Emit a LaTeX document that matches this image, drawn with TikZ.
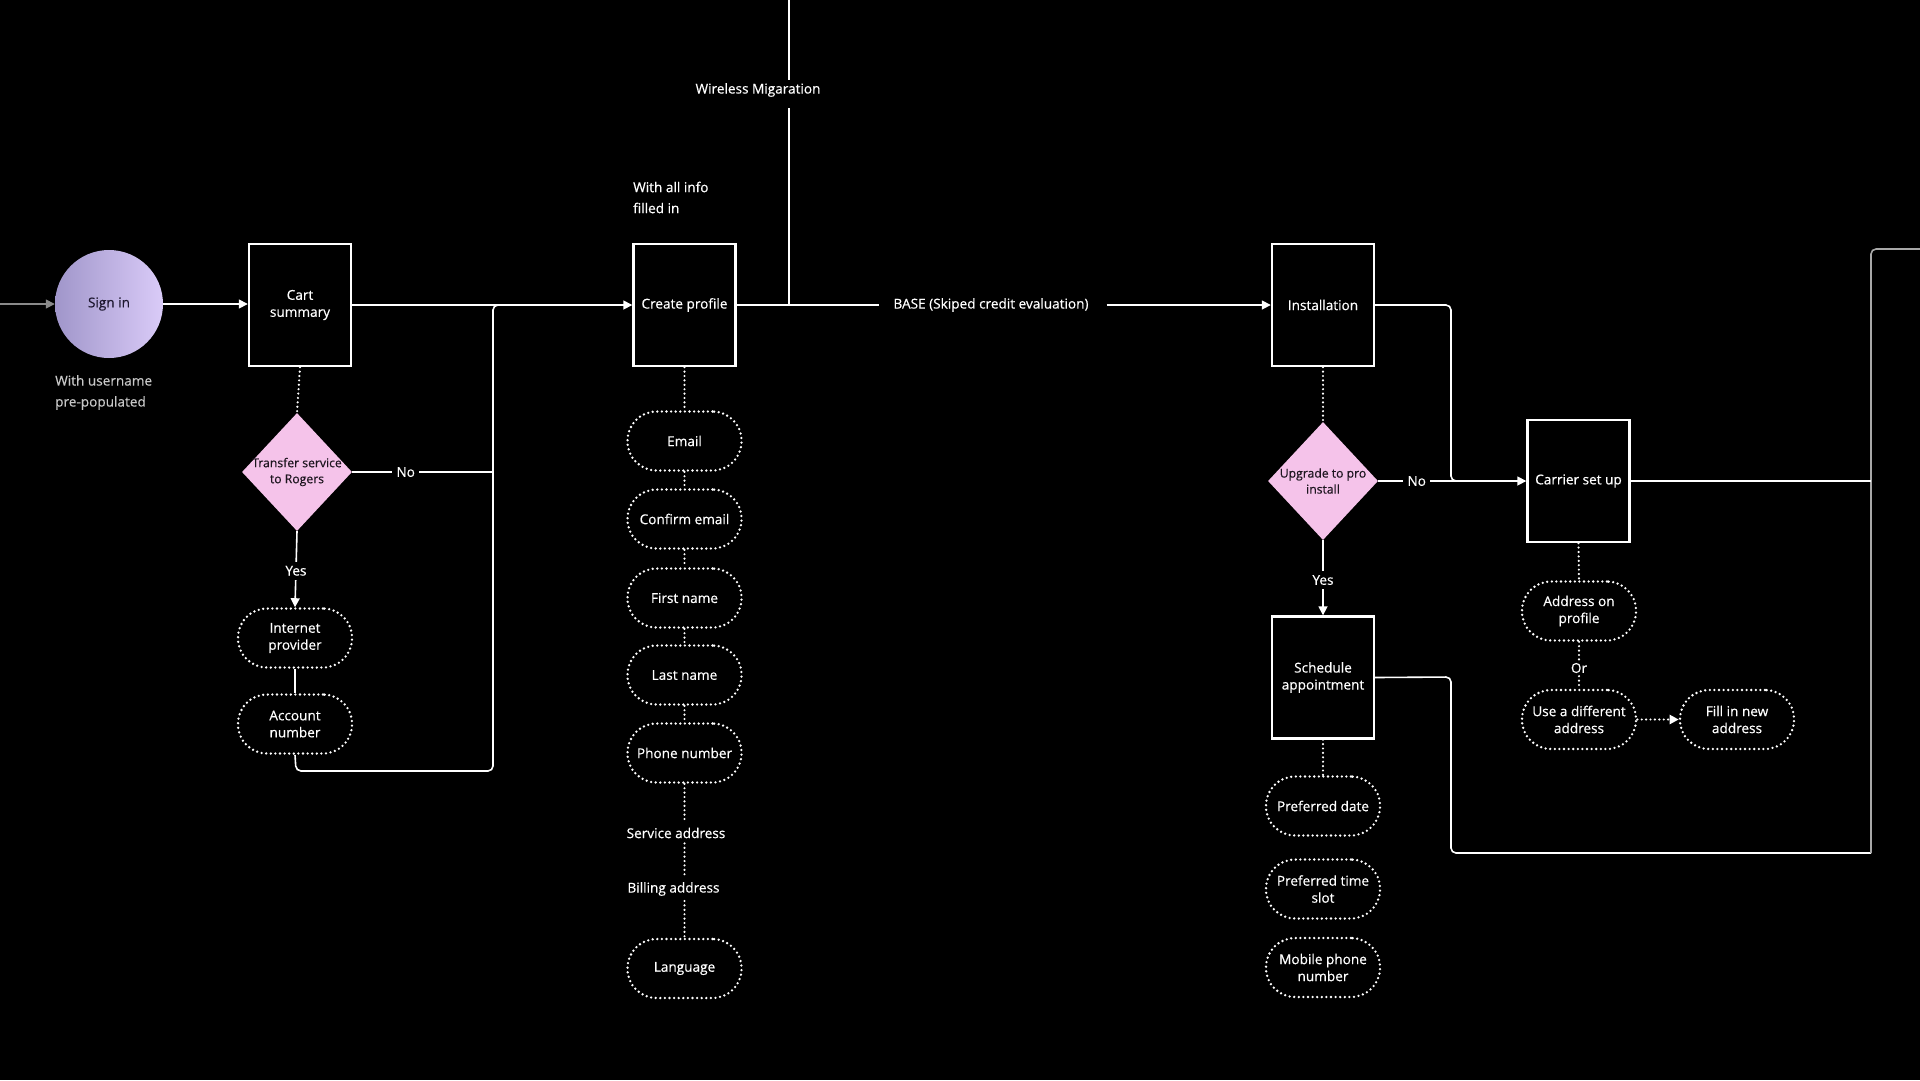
\documentclass[tikz,border=0pt]{standalone}
\usepackage{fontspec}
\setmainfont{Open Sans}[UprightFeatures={FakeBold=0.45}]
\usetikzlibrary{shapes.geometric,arrows.meta}
\definecolor{pinkc}{HTML}{F5C3EA}
\definecolor{diatext}{HTML}{1E1620}
\definecolor{sA}{HTML}{A096CA}
\definecolor{sB}{HTML}{DACBF8}
\definecolor{signtext}{HTML}{1E1830}
\definecolor{ingray}{HTML}{8A8A8A}
\definecolor{rgray}{HTML}{A8A8A8}
\definecolor{notegray}{HTML}{C8C8C8}
\begin{document}
\begin{tikzpicture}[x=1pt,y=-1pt,
  font=\fontsize{13.6}{17}\selectfont,
  txt/.style={text=white, align=center, inner sep=5pt},
  box/.style={draw=white, line width=2.4pt, minimum width=102pt, minimum height=122pt, text=white, align=center, inner sep=2pt},
  pill/.style={draw=white, line width=2.6pt, dash pattern=on 0pt off 4.6pt, line cap=round, rounded corners=29pt, minimum width=114pt, minimum height=59pt, text=white, align=center, inner sep=2pt},
  dia/.style={diamond, fill=pinkc, minimum width=110pt, minimum height=118pt, inner sep=0pt},
  dtext/.style={text=diatext, align=center, inner sep=0pt, font=\fontsize{12.2}{16}\selectfont},
  conn/.style={draw=white, line width=1.6pt},
  dconn/.style={draw=white, line width=2.4pt, dash pattern=on 0pt off 4.4pt, line cap=round},
  arr/.style={-{Triangle[length=9pt,width=9pt]}},
  lbl/.style={fill=black, text=white, inner sep=4pt},
]
\fill[black] (0,0) rectangle (1920,1080);
\useasboundingbox (0,0) rectangle (1920,1080);

% ---------- left part ----------
\node[circle, minimum size=108pt, left color=sA, right color=sB, text=signtext, inner sep=0pt] (signin) at (109,304) {Sign in};
\node[text=notegray, align=left, anchor=west, inner sep=0pt, font=\fontsize{13.6}{21}\selectfont] (signnote) at (55,392.5) {With username\\pre-populated};
\coordinate (in) at (0,304);
\draw[draw=ingray, line width=1.6pt, arr] (in) -- (signin.west);

\node[box] (cart) at (300,305) {Cart\\summary};
\draw[conn, arr] (signin.east) -- (signin.east -| cart.west);

\node[dia] (transfer) at (297,472) {};
\node[dtext] (transfertxt) at (297,472) {Transfer service\\to Rogers};
\draw[dconn] (cart.south) -- (transfer.north);

\node[pill] (internet) at (295,638) {Internet\\provider};
\node[pill] (acct) at (295,724) {Account\\number};
\draw[conn, arr] (transfer.south) -- node[lbl, pos=0.52] {Yes} (internet.north);
\draw[conn] (internet.south) -- (acct.north);

\node[box] (create) at (684.5,305) {Create profile};
\node[text=white, align=left, anchor=west, inner sep=0pt, font=\fontsize{13.6}{21}\selectfont] (createnote) at (633,197.5) {With all info\\filled in};
\draw[conn, arr] (cart.east) -- (create.west);

\coordinate (jtop) at (493,305);
\coordinate (jno) at (493,472);
\coordinate (lb) at (296,771);
\coordinate (rb) at (493,771);
\coordinate (jafter) at (530,305);
\draw[conn, rounded corners=5pt] (acct.south) -- (lb) -- (rb) -- (jtop) -- (jafter);
\draw[conn] (transfer.east) -- node[lbl, pos=0.38] {No} (jno);

% ---------- create profile column ----------
\node[pill] (email) at (684.5,441) {Email};
\node[pill] (confirm) at (684.5,519) {Confirm email};
\node[pill] (first) at (684.5,598) {First name};
\node[pill] (last) at (684.5,675) {Last name};
\node[pill] (phone) at (684.5,753) {Phone number};
\node[txt] (svc) at (676,833) {Service address};
\node[txt] (bill) at (673.5,889) {Billing address};
\node[pill] (lang) at (684.5,968.5) {Language};
\draw[dconn] (create.south) -- (email.north);
\draw[dconn] (email.south) -- (confirm.north);
\draw[dconn] (confirm.south) -- (first.north);
\draw[dconn] (first.south) -- (last.north);
\draw[dconn] (last.south) -- (phone.north);
\draw[dconn] (phone.south) -- (phone.south |- svc.north);
\draw[dconn] (phone.south |- svc.south) -- (phone.south |- bill.north);
\draw[dconn] (phone.south |- bill.south) -- (lang.north);

% ---------- wireless / base ----------
\node[txt] (wm) at (758,90) {Wireless Migaration};
\coordinate (wtop) at (789,0);
\coordinate (wgap1) at (789,80);
\coordinate (wgap2) at (789,108);
\coordinate (wbot) at (789,305);
\draw[conn] (wtop) -- (wgap1);
\draw[conn] (wgap2) -- (wbot);

\node[box] (install) at (1323,305) {Installation};
\node[text=white, inner sep=0pt] (base) at (991,305) {BASE (Skiped credit evaluation)};
\draw[conn] (create.east) -- ([xshift=-14pt]base.west);
\draw[conn, arr] ([xshift=18pt]base.east) -- (install.west);

% ---------- installation part ----------
\node[dia] (upgrade) at (1323,481) {};
\node[dtext] (upgradetxt) at (1323,481) {Upgrade to pro\\install};
\draw[dconn] (install.south) -- (upgrade.north);

\node[box] (carrier) at (1578.5,481) {Carrier set up};
\coordinate (ij1) at (1451,305);
\coordinate (ij2) at (1451,481);
\coordinate (ij3) at (1480,481);
\draw[conn, rounded corners=5pt] (install.east) -- (ij1) -- (ij2) -- (ij3);
\draw[conn, arr] (upgrade.east) -- node[lbl, pos=0.26] {No} (carrier.west);

\node[box] (sched) at (1323,677.5) {Schedule\\appointment};
\draw[conn, arr] (upgrade.south) -- node[lbl, pos=0.53] {Yes} (sched.north);

\node[pill] (pdate) at (1323,806) {Preferred date};
\node[pill] (ptime) at (1323,889) {Preferred time\\slot};
\node[pill] (mobile) at (1323,967.5) {Mobile phone\\number};
\draw[dconn] (sched.south) -- (pdate.north);

\node[pill] (addr) at (1579,611) {Address on\\profile};
\node[txt, inner sep=3pt] (or) at (1579,668) {Or};
\node[pill] (diff) at (1579,719.5) {Use a different\\address};
\node[pill] (fillnew) at (1737,719.5) {Fill in new\\address};
\draw[dconn] (carrier.south) -- (addr.north);
\draw[dconn] (addr.south) -- (or.north);
\draw[dconn] (or.south) -- (diff.north);
\draw[dconn, arr] (diff.east) -- (fillnew.west);

% ---------- right return path ----------
\coordinate (s1) at (1451,677);
\coordinate (s2) at (1451,853);
\coordinate (s3) at (1871,853);
\coordinate (r1) at (1871,249);
\coordinate (r2) at (1920,249);
\coordinate (cj) at (1871,481);
\draw[conn, rounded corners=5pt] (sched.east) -- (s1) -- (s2) -- (s3);
\draw[draw=rgray, line width=1.6pt, rounded corners=5pt] (s3) -- (r1) -- (r2);
\draw[conn] (carrier.east) -- (cj);
\end{tikzpicture}
\end{document}
